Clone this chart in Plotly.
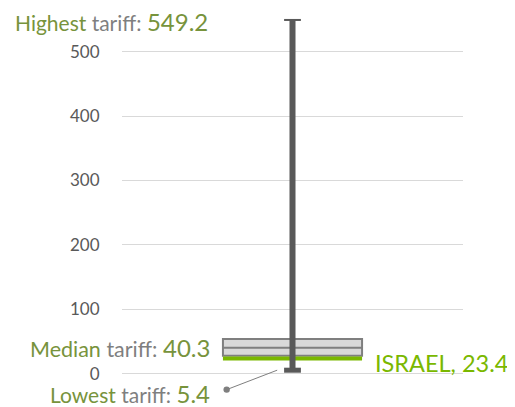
import plotly.graph_objects as go

# Data
category = ["Tariffs"]
lowest = [5.4]
q1 = [28.0]
median = [40.3]
q3 = [54.0]
highest = [549.2]
israel = [23.4]
tick_vals = [0, 100, 200, 300, 400, 500]

OLIVE = "#77933c"
GRAY_TXT = "#7f7f7f"
BRIGHT = "#7ab800"
DARK = "#595959"
FONT = "Lato"

fig = go.Figure()

# Box (Q1, median, Q3)
fig.add_trace(go.Box(
    x=[0], q1=q1, median=median, q3=q3,
    lowerfence=q1, upperfence=q3,
    width=0.408, fillcolor="#d9d9d9",
    line=dict(color="#7f7f7f", width=2),
    whiskerwidth=0, boxpoints=False, hoverinfo="skip",
    showlegend=False,
))

# Israel line
fig.add_trace(go.Scatter(
    x=[-0.204, 0.204], y=[israel[0], israel[0]], mode="lines",
    line=dict(color=BRIGHT, width=4), showlegend=False, hoverinfo="skip",
))

# Whisker from lowest to highest
fig.add_trace(go.Scatter(
    x=[0, 0], y=[lowest[0], highest[0]], mode="lines",
    line=dict(color=DARK, width=6), showlegend=False, hoverinfo="skip",
))
# caps
fig.add_trace(go.Scatter(
    x=[0], y=lowest, mode="markers",
    marker=dict(symbol="line-ew", size=12, line=dict(color=DARK, width=5)),
    showlegend=False, hoverinfo="skip",
))
fig.add_trace(go.Scatter(
    x=[0], y=highest, mode="markers",
    marker=dict(symbol="line-ew", size=12, line=dict(color=DARK, width=2)),
    showlegend=False, hoverinfo="skip",
))

def lab(word, value):
    return (f"<span style='color:{OLIVE}'>{word}</span> "
            f"<span style='color:{GRAY_TXT}'>tariff:</span> "
            f"<span style='color:{OLIVE};font-size:24px'>{value}</span>")

annotations = [
    dict(x=-0.318, xref="paper", y=highest[0], yref="y", xanchor="left", yanchor="middle",
         yshift=-2, borderpad=0,
         text=lab("Highest", highest[0]), showarrow=False, font=dict(family=FONT, size=21)),
    dict(x=-0.238, y=median[0], xanchor="right", yanchor="middle", borderpad=0,
         text=lab("Median", median[0]), showarrow=False, font=dict(family=FONT, size=21.5)),
    dict(x=0.238, y=israel[0], xanchor="left", yanchor="middle", yshift=-4, borderpad=0,
         text=f"ISRAEL, {israel[0]}", showarrow=False,
         font=dict(family=FONT, size=23.5, color=BRIGHT)),
    dict(x=-0.238, y=lowest[0], xanchor="right", yanchor="middle", yshift=-23, borderpad=0,
         text=lab("Lowest", lowest[0]), showarrow=False, font=dict(family=FONT, size=21)),
    dict(x=-0.045, y=lowest[0], ax=-52, ay=20, text=" ", showarrow=True,
         arrowhead=0, arrowside="start", startarrowhead=6, startarrowsize=1.6,
         arrowwidth=1, arrowcolor="#7f7f7f", standoff=0, startstandoff=0,
         font=dict(size=1)),
]

fig.update_layout(
    width=507, height=399,
    margin=dict(l=114, r=52, t=5, b=14),
    plot_bgcolor="white", paper_bgcolor="white",
    font=dict(family=FONT, color=DARK),
    annotations=annotations,
    showlegend=False,
    xaxis=dict(range=[-0.5, 0.5], visible=False, fixedrange=True),
    yaxis=dict(range=[-30, 560], tickvals=tick_vals, showgrid=True,
               gridcolor="#d9d9d9", gridwidth=1, zeroline=False, showline=False,
               ticks="outside", ticklen=18, tickcolor="rgba(0,0,0,0)",
               tickfont=dict(family=FONT, size=17, color=DARK)),
)

fig.write_html("out.html")
